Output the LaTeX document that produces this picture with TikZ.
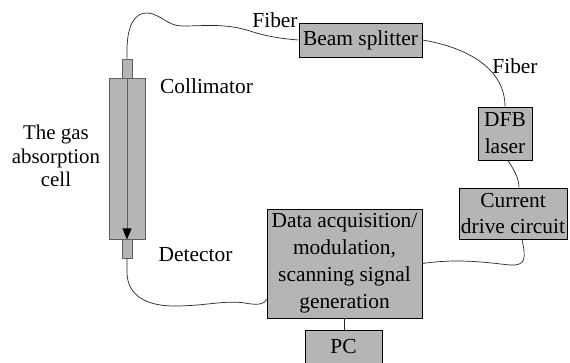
\documentclass[tikz,border=0pt]{standalone}
\usepackage{fontspec}
\setmainfont{Liberation Serif}
\newfontfamily\timesface{Liberation Serif}
\usetikzlibrary{arrows.meta}

\definecolor{boxgray}{RGB}{181,181,181}
\definecolor{cellline}{RGB}{95,95,95}

\tikzset{
	unit/.style={draw=black, fill=boxgray, line width=0.9bp, inner sep=0pt, align=center},
	fiber/.style={draw=black!85, line width=0.7bp},
	tag/.style={inner sep=0pt, align=center},
}

\begin{document}
\begin{tikzpicture}[x=1bp, y=-1bp, font=\timesface\fontsize{21.5}{27}\selectfont]
	\clip (0,0) rectangle (570,362);
	
	% absorption cell, collimator and detector
	\node[unit, draw=cellline, minimum width=36bp, minimum height=161bp] (cell) at (127,158.5) {};
	\node[unit, draw=cellline, minimum width=10bp, minimum height=19bp] (coll) at (127,68.5) {};
	\node[unit, draw=cellline, minimum width=10bp, minimum height=19bp] (det) at (127,248.5) {};
	\draw[cellline, line width=0.8bp, -{Triangle[length=11bp,width=9bp,color=black]}] (cell.north) -- (cell.south);
	
	% blocks
	\node[unit, minimum width=123bp, minimum height=34bp] (split) at (360.5,40) {Beam splitter};
	\node[unit, minimum width=54bp, minimum height=53bp] (dfb) at (505,133.5) {DFB\\laser};
	\node[unit, minimum width=108bp, minimum height=51bp] (drive) at (513,213.5) {Current\\drive circuit};
	\node[unit, minimum width=155bp, minimum height=109bp] (daq) at (344.5,263.5) {Data acquisition/\\modulation,\\scanning signal\\generation};
	\node[unit, minimum width=77bp, minimum height=34bp] (pc) at (343.5,347) {PC};
	
	% labels
	\node[tag] (fibtop) at (275,20) {Fiber};
	\node[tag] (fibright) at (515,66.5) {Fiber};
	\node[tag] (colltxt) at (206.5,86.5) {Collimator};
	\node[tag] (dettxt) at (195.5,255) {Detector};
	\node[tag, font=\timesface\fontsize{21}{23.5}\selectfont] (celltxt) at (56,156) {The gas\\absorption\\cell};
	
	% fibers and cables
	\draw[fiber] (coll.north) -- ++(0,-8) .. controls (127,25) and (135,12) .. (148,13)
		.. controls (160,14) and (168,26) .. (182,26)
		.. controls (205,26) and (225,23) .. (250,31)
		.. controls (268,37) and (285,39) .. (split.west);
	\draw[fiber] (split.east) .. controls (470,48) and (505,70) .. (dfb.north);
	\draw[fiber] ([xshift=3bp]dfb.south) .. controls (514,170) and (519,178) .. ([xshift=6bp]drive.north);
	\draw[fiber] ([xshift=9bp]drive.south) .. controls (526,258) and (526,266) .. (510,265)
		.. controls (490,263) and (460,258) .. (daq.east);
	\draw[fiber] (det.south) -- ++(0,15) .. controls (128,295) and (145,306) .. (175,306)
		.. controls (205,306) and (225,300) .. (245,303)
		.. controls (260,306) and (265,303) .. ([yshift=-36bp]daq.west);
	\draw[fiber] (daq.south) -- (daq.south |- pc.north);
\end{tikzpicture}
\end{document}
